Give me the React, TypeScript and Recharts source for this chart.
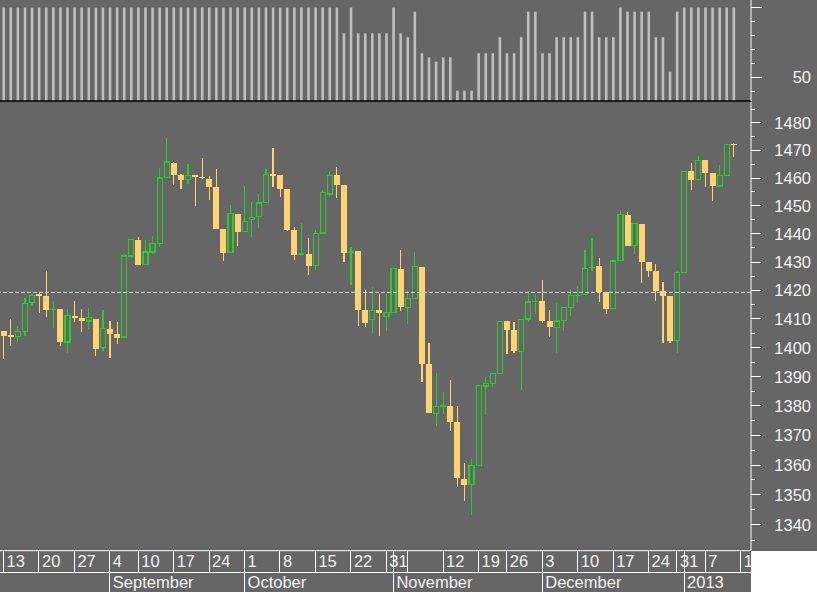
import { ComposedChart, Bar, XAxis, YAxis, ReferenceLine } from "recharts";

// trading days shown on the chart (last one is an empty slot for the next week tick)
const dates = [
  "2012-08-13", "2012-08-14", "2012-08-15", "2012-08-16", "2012-08-17",
  "2012-08-20", "2012-08-21", "2012-08-22", "2012-08-23", "2012-08-24",
  "2012-08-27", "2012-08-28", "2012-08-29", "2012-08-30", "2012-08-31",
  "2012-09-04", "2012-09-05", "2012-09-06", "2012-09-07",
  "2012-09-10", "2012-09-11", "2012-09-12", "2012-09-13", "2012-09-14",
  "2012-09-17", "2012-09-18", "2012-09-19", "2012-09-20", "2012-09-21",
  "2012-09-24", "2012-09-25", "2012-09-26", "2012-09-27", "2012-09-28",
  "2012-10-01", "2012-10-02", "2012-10-03", "2012-10-04", "2012-10-05",
  "2012-10-08", "2012-10-09", "2012-10-10", "2012-10-11", "2012-10-12",
  "2012-10-15", "2012-10-16", "2012-10-17", "2012-10-18", "2012-10-19",
  "2012-10-22", "2012-10-23", "2012-10-24", "2012-10-25", "2012-10-26",
  "2012-10-31", "2012-11-01", "2012-11-02",
  "2012-11-05", "2012-11-06", "2012-11-07", "2012-11-08", "2012-11-09",
  "2012-11-12", "2012-11-13", "2012-11-14", "2012-11-15", "2012-11-16",
  "2012-11-19", "2012-11-20", "2012-11-21", "2012-11-23",
  "2012-11-26", "2012-11-27", "2012-11-28", "2012-11-29", "2012-11-30",
  "2012-12-03", "2012-12-04", "2012-12-05", "2012-12-06", "2012-12-07",
  "2012-12-10", "2012-12-11", "2012-12-12", "2012-12-13", "2012-12-14",
  "2012-12-17", "2012-12-18", "2012-12-19", "2012-12-20", "2012-12-21",
  "2012-12-24", "2012-12-26", "2012-12-27", "2012-12-28",
  "2012-12-31", "2013-01-02", "2013-01-03", "2013-01-04",
  "2013-01-07", "2013-01-08", "2013-01-09", "2013-01-10", "2013-01-11",
  "2013-01-14",
];

const open = [
  1405.87, 1404.36, 1403.89, 1405.57, 1415.84, 1418.5, 1418.13, 1413.09, 1413.49, 1401.99,
  1411.13, 1410.44, 1409.32, 1410.08, 1400.07, 1406.54, 1404.94, 1403.74, 1432.12, 1437.92,
  1429.13, 1433.56, 1436.56, 1460.07, 1465.42, 1461.19, 1459.5, 1461.05, 1460.34, 1459.76,
  1456.94, 1441.6, 1433.36, 1447.13, 1440.9, 1444.99, 1446.05, 1451.08, 1461.4, 1460.93,
  1455.9, 1441.48, 1432.82, 1432.84, 1428.75, 1440.31, 1454.22, 1460.94, 1457.34, 1433.21,
  1433.74, 1413.2, 1409.74, 1412.97, 1410.99, 1412.2, 1427.59, 1414.02, 1417.26, 1428.27,
  1394.53, 1377.55, 1379.86, 1380.03, 1374.64, 1355.41, 1353.36, 1359.88, 1386.82, 1387.79,
  1391.03, 1409.15, 1406.29, 1398.77, 1409.96, 1415.95, 1416.34, 1409.46, 1407.05, 1409.43,
  1413.95, 1418.07, 1418.55, 1427.84, 1428.48, 1419.45, 1413.54, 1430.47, 1446.79, 1435.81,
  1443.67, 1430.15, 1426.66, 1419.83, 1418.1, 1402.43, 1426.19, 1462.42, 1459.37, 1466.47,
  1461.89, 1457.15, 1461.02, 1472.12,
];

const high = [
  1405.87, 1410.03, 1407.73, 1417.44, 1418.71, 1419.0, 1426.68, 1416.12, 1413.49, 1413.46,
  1416.17, 1413.63, 1413.95, 1410.08, 1413.09, 1409.31, 1408.81, 1432.81, 1437.92, 1438.74,
  1437.76, 1439.15, 1463.76, 1474.51, 1465.63, 1461.47, 1465.15, 1461.23, 1467.07, 1460.72,
  1463.24, 1441.6, 1450.2, 1447.13, 1457.14, 1451.52, 1454.3, 1463.14, 1470.96, 1460.93,
  1455.9, 1442.52, 1443.9, 1438.43, 1441.31, 1455.51, 1462.2, 1464.02, 1457.34, 1435.46,
  1433.74, 1420.04, 1421.12, 1418.76, 1418.76, 1428.35, 1434.27, 1419.9, 1433.38, 1428.27,
  1401.53, 1391.39, 1384.87, 1388.81, 1380.13, 1360.62, 1362.03, 1386.89, 1389.77, 1391.25,
  1409.16, 1409.15, 1409.01, 1410.03, 1419.7, 1418.86, 1423.73, 1413.14, 1415.56, 1413.95,
  1420.34, 1421.64, 1434.27, 1438.59, 1431.36, 1419.45, 1430.67, 1448.0, 1447.75, 1443.7,
  1443.67, 1430.15, 1429.42, 1422.8, 1418.1, 1426.74, 1462.43, 1465.47, 1467.94, 1466.47,
  1461.89, 1464.73, 1472.3, 1472.75,
];

const low = [
  1395.96, 1400.6, 1401.83, 1404.15, 1414.67, 1412.12, 1410.86, 1406.78, 1400.5, 1398.04,
  1409.11, 1405.59, 1406.57, 1397.01, 1398.96, 1396.56, 1401.25, 1403.74, 1431.45, 1429.06,
  1429.13, 1432.99, 1435.15, 1460.07, 1457.55, 1456.13, 1457.88, 1449.98, 1459.51, 1452.06,
  1441.59, 1430.53, 1433.32, 1435.6, 1440.9, 1439.01, 1441.99, 1451.08, 1456.89, 1453.1,
  1441.18, 1430.64, 1432.82, 1425.53, 1427.24, 1440.31, 1453.35, 1452.63, 1429.85, 1422.06,
  1407.56, 1407.1, 1405.14, 1403.95, 1405.95, 1412.2, 1412.91, 1408.13, 1417.26, 1388.14,
  1377.51, 1373.03, 1377.19, 1371.39, 1352.5, 1348.05, 1343.35, 1359.88, 1377.04, 1386.39,
  1391.03, 1397.68, 1398.03, 1385.43, 1409.04, 1411.63, 1408.46, 1403.65, 1398.23, 1405.93,
  1410.9, 1415.64, 1418.55, 1426.76, 1416.0, 1411.88, 1413.54, 1430.47, 1435.8, 1432.82,
  1422.58, 1424.66, 1416.43, 1401.8, 1401.58, 1398.11, 1426.19, 1455.53, 1458.99, 1456.62,
  1451.64, 1457.15, 1461.02, 1467.58,
];

const close = [
  1404.11, 1403.93, 1405.53, 1415.51, 1418.16, 1418.13, 1413.17, 1413.49, 1402.08, 1411.13,
  1410.44, 1409.3, 1410.49, 1399.48, 1406.58, 1404.94, 1403.44, 1432.12, 1437.92, 1429.08,
  1433.56, 1436.56, 1459.99, 1465.77, 1461.19, 1459.32, 1461.05, 1460.26, 1460.15, 1456.89,
  1441.59, 1433.32, 1447.15, 1440.67, 1444.49, 1445.75, 1450.99, 1461.4, 1460.93, 1455.88,
  1441.48, 1432.56, 1432.84, 1428.59, 1440.13, 1454.92, 1460.91, 1457.34, 1433.19, 1433.82,
  1413.11, 1408.75, 1412.97, 1411.94, 1412.16, 1427.59, 1414.2, 1417.26, 1428.39, 1394.53,
  1377.51, 1379.85, 1380.03, 1374.53, 1355.49, 1353.33, 1359.88, 1386.89, 1387.81, 1391.03,
  1409.15, 1406.29, 1398.94, 1409.93, 1415.95, 1416.18, 1409.46, 1407.05, 1409.28, 1413.94,
  1418.07, 1418.55, 1427.84, 1428.48, 1419.45, 1413.58, 1430.36, 1446.79, 1435.81, 1443.69,
  1430.15, 1426.66, 1419.83, 1418.1, 1402.43, 1426.19, 1462.42, 1459.37, 1466.47, 1461.89,
  1457.15, 1461.02, 1472.12, 1472.05,
];

// upper panel indicator
const breadth = [
  100, 100, 100, 100, 100, 100, 100, 100, 100, 100,
  100, 100, 100, 100, 100, 100, 100, 100, 100, 100,
  100, 100, 100, 100, 100, 100, 100, 100, 100, 100,
  100, 100, 100, 100, 100, 100, 100, 100, 100, 100,
  100, 100, 100, 100, 100, 100, 100, 100,
  81.5, 100, 81.5, 81.5, 81.5, 81.5, 81.5, 100, 81.5, 78.7,
  97, 67.2, 64.3, 61.2, 64.3, 64.3, 40.4, 40.4, 40.4, 67.2,
  67.2, 67.2, 78.7, 67.2, 67.2, 78.7, 97, 97, 67.2, 67.2,
  78.7, 78.7, 78.7, 78.7, 97, 97, 78.7, 78.7, 78.7, 100,
  97, 97, 97, 97, 78.7, 78.7, 54, 97,
  100, 100, 100, 100, 100, 100, 100, 100,
];

const tickDates = [
  "2012-08-13", "2012-08-20", "2012-08-27", "2012-09-04", "2012-09-10", "2012-09-17",
  "2012-09-24", "2012-10-01", "2012-10-08", "2012-10-15", "2012-10-22", "2012-10-31",
  "2012-11-01", "2012-11-05", "2012-11-12", "2012-11-19", "2012-11-26", "2012-12-03",
  "2012-12-10", "2012-12-17", "2012-12-24", "2012-12-31", "2013-01-02", "2013-01-07",
  "2013-01-14",
];
const tickLabels = [
  "13", "20", "27", "4", "10", "17",
  "24", "1", "8", "15", "22", "31",
  "", "", "12", "19", "26", "3",
  "10", "17", "24", "31", "", "7",
  "14",
];

const monthDates = ["2012-09-04", "2012-10-01", "2012-11-01", "2012-12-03", "2013-01-02"];
const monthLabels = ["September", "October", "November", "December", "2013"];

const priceTicks = [
  1335, 1340, 1345, 1350, 1355, 1360, 1365, 1370, 1375, 1380, 1385, 1390, 1395, 1400,
  1405, 1410, 1415, 1420, 1425, 1430, 1435, 1440, 1445, 1450, 1455, 1460, 1465, 1470,
  1475, 1480, 1485,
];
const breadthTicks = [40, 50, 60, 70, 80, 90, 100];
const breadthMajor = [50, 100];
const breadthLabeled = [50];

const refLevel = 1419.3;

const BG = "#666666";
const GREEN = "#2bcb2b";
const YELLOW = "#ffd372";
const FONT = '"Liberation Sans", Arial, sans-serif';

const data = dates.map((d, i) => ({
  d,
  o: open[i],
  h: high[i],
  l: low[i],
  c: close[i],
  b: breadth[i],
  range: high[i] != null ? [low[i], high[i]] : null,
}));

const Candle = (props: any) => {
  const { x, y, width, height, payload } = props;
  if (!payload || payload.h == null) return null;
  const top = Math.min(y, y + height);
  const bot = Math.max(y, y + height);
  const lh = Math.log(payload.h);
  const ll = Math.log(payload.l);
  const py = (v: number) => top + ((bot - top) * (lh - Math.log(v))) / (lh - ll);
  const cx = x + width / 2;
  const up = payload.c > payload.o;
  const col = up ? GREEN : YELLOW;
  const bTop = py(Math.max(payload.o, payload.c));
  const bBot = py(Math.min(payload.o, payload.c));
  const bh = bBot - bTop;
  if (bh < 2) {
    const mid = (bTop + bBot) / 2;
    return (
      <g shapeRendering="crispEdges">
        <line x1={cx} x2={cx} y1={top} y2={bot} stroke={col} strokeWidth={1.2} />
        <rect x={cx - 3} y={mid - 0.7} width={6} height={Math.max(1.4, bh)} fill={col} />
      </g>
    );
  }
  if (up) {
    return (
      <g shapeRendering="crispEdges">
        <line x1={cx} x2={cx} y1={top} y2={bTop} stroke={col} strokeWidth={1.2} />
        <line x1={cx} x2={cx} y1={bBot} y2={bot} stroke={col} strokeWidth={1.2} />
        <rect x={cx - 2.5} y={bTop} width={5} height={bh} fill="none" stroke={col} strokeWidth={1.2} />
      </g>
    );
  }
  return (
    <g shapeRendering="crispEdges">
      <line x1={cx} x2={cx} y1={top} y2={bot} stroke={col} strokeWidth={1.2} />
      <rect x={cx - 3} y={bTop} width={6} height={bh} fill={col} />
    </g>
  );
};

const BreadthBar = (props: any) => {
  const { x, y, width, height, payload } = props;
  if (!payload || payload.b == null) return null;
  return <rect x={x + width / 2 - 1.3} y={y} width={2.6} height={height} fill="#bfbfbf" />;
};

const XTick = (props: any) => {
  const { x, y, payload, index } = props;
  const k = tickDates.indexOf(payload.value);
  const m = monthDates.indexOf(payload.value);
  const row = 21.6;
  return (
    <g shapeRendering="crispEdges">
      {index === 0 && <line x1={0} x2={751} y1={y + row} y2={y + row} stroke="#fff" />}
      <line x1={x} x2={x} y1={y} y2={y + row} stroke="#fff" />
      {k >= 0 && tickLabels[k] !== "" && (
        <text x={x + 3} y={y + 16} fill="#f2f2f2" fontSize={16.5} fontFamily={FONT}>
          {tickLabels[k]}
        </text>
      )}
      {m >= 0 && (
        <g>
          <line x1={x} x2={x} y1={y + row} y2={y + 42} stroke="#fff" />
          <text x={x + 3} y={y + 37.5} fill="#f2f2f2" fontSize={16.5} fontFamily={FONT}>
            {monthLabels[m]}
          </text>
        </g>
      )}
    </g>
  );
};

const PriceTick = (props: any) => {
  const { x, y, payload } = props;
  const major = payload.value % 10 === 0;
  return (
    <g>
      <line x1={x} x2={x + (major ? 10 : 4)} y1={y} y2={y} stroke="#fff" shapeRendering="crispEdges" />
      {major && (
        <text x={x + 60} y={y + 6} textAnchor="end" fill="#f2f2f2" fontSize={16.5} fontFamily={FONT}>
          {payload.value}
        </text>
      )}
    </g>
  );
};

const BreadthTick = (props: any) => {
  const { x, y, payload } = props;
  const major = breadthMajor.includes(payload.value);
  return (
    <g>
      <line x1={x} x2={x + (major ? 11 : 4)} y1={y} y2={y} stroke="#fff" shapeRendering="crispEdges" />
      {breadthLabeled.includes(payload.value) && (
        <text x={x + 60} y={y + 6} textAnchor="end" fill="#f2f2f2" fontSize={16.5} fontFamily={FONT}>
          {payload.value}
        </text>
      )}
    </g>
  );
};

export default function App() {
  return (
    <div
      style={{
        position: "absolute",
        left: 0,
        top: 0,
        width: 817,
        height: 592,
        background: BG,
        overflow: "hidden",
      }}
    >
      <ComposedChart width={817} height={102} data={data} margin={{ top: 0, right: 0, left: 0, bottom: 0 }}>
        <XAxis
          dataKey="d"
          height={1}
          padding={{ left: 0, right: 6.7 }}
          tick={false}
          tickLine={false}
          axisLine={{ stroke: "#000", strokeWidth: 1.5 }}
        />
        <YAxis
          orientation="right"
          width={66}
          type="number"
          domain={[33.02, 105.37]}
          allowDataOverflow
          ticks={breadthTicks}
          interval={0}
          tickSize={0}
          tickMargin={0}
          tickLine={false}
          axisLine={{ stroke: "#fff" }}
          tick={<BreadthTick />}
        />
        <Bar dataKey="b" shape={<BreadthBar />} isAnimationActive={false} />
      </ComposedChart>
      <ComposedChart width={817} height={490} data={data} margin={{ top: 0, right: 0, left: 0, bottom: 0 }}>
        <XAxis
          dataKey="d"
          height={41.3}
          padding={{ left: 0, right: 6.7 }}
          ticks={tickDates}
          interval={0}
          tickSize={0}
          tickMargin={0}
          tickLine={false}
          axisLine={{ stroke: "#fff" }}
          tick={<XTick />}
        />
        <YAxis
          orientation="right"
          width={66}
          type="number"
          scale="log"
          domain={[1331.5, 1487.7]}
          allowDataOverflow
          ticks={priceTicks}
          interval={0}
          tickSize={0}
          tickMargin={0}
          tickLine={false}
          axisLine={{ stroke: "#fff" }}
          tick={<PriceTick />}
        />
        <ReferenceLine y={refLevel} stroke="#cfcfcf" strokeDasharray="4 2" />
        <Bar dataKey="range" shape={<Candle />} isAnimationActive={false} />
      </ComposedChart>
      <div
        style={{
          position: "absolute",
          left: 751,
          top: 551,
          width: 66,
          height: 41,
          background: "#ffffff",
        }}
      />
    </div>
  );
}
